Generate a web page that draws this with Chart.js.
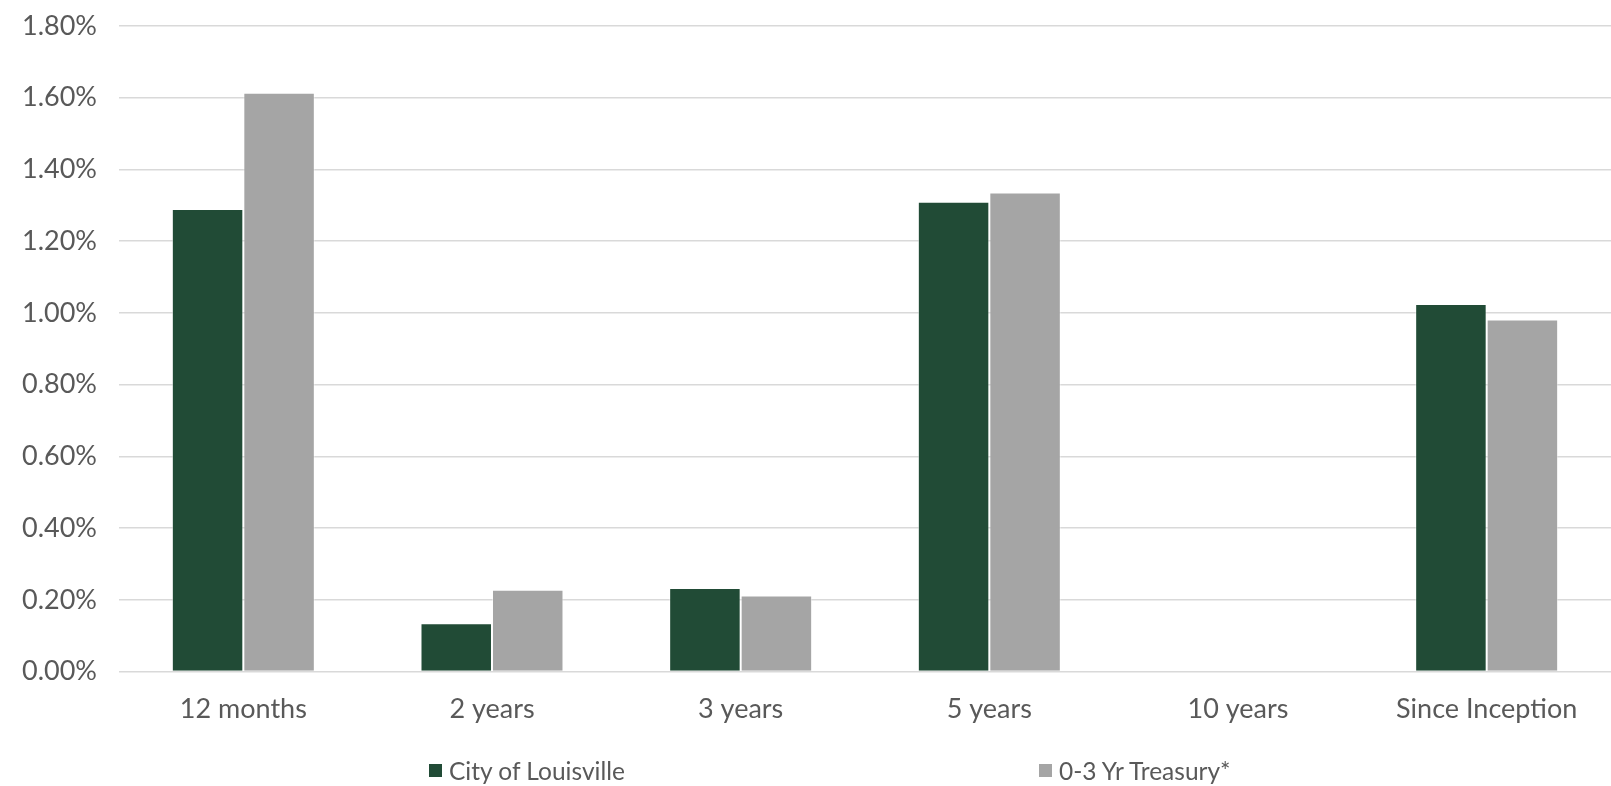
<!DOCTYPE html>
<html>
<head>
<meta charset="utf-8">
<script src="https://cdn.jsdelivr.net/npm/chart.js@4.4.1/dist/chart.umd.min.js"></script>
<style>
  html, body { margin: 0; padding: 0; background: #fff; }
  #wrap { position: relative; width: 1611px; height: 786px; }
  #legend { position: absolute; top: 756px; left: 0; width: 1611px; height: 28px;
            font-family: Lato, "Open Sans", sans-serif; font-size: 24.5px; color: #595959; }
  .item { position: absolute; top: 0; display: flex; align-items: center; white-space: nowrap; }
  .box { width: 13px; height: 13px; margin-right: 7px; }
</style>
</head>
<body>
<div id="wrap">
  <canvas id="perfChart" width="1611" height="786"></canvas>
  <div id="legend"></div>
</div>
<script>
// periods and annualised returns (in %)
const periods = ['12 months', '2 years', '3 years', '5 years', '10 years', 'Since Inception'];
const louisville = [1.29, 0.135, 0.233, 1.31, null, 1.025];
const treasury = [1.614, 0.228, 0.212, 1.336, null, 0.982];
const seriesNames = ['City of Louisville', '0-3 Yr Treasury*'];
const seriesColors = ['#214B36', '#A5A5A5'];
const legendLeft = [429, 1039];

const font = "Lato, 'Open Sans', sans-serif";

const ctx = document.getElementById('perfChart').getContext('2d');
const chart = new Chart(ctx, {
    type: 'bar',
    data: {
        labels: periods,
        datasets: [
            { label: seriesNames[0], data: louisville, backgroundColor: seriesColors[0],
              borderColor: 'rgba(255,255,255,0.45)', borderWidth: 1 },
            { label: seriesNames[1], data: treasury, backgroundColor: seriesColors[1],
              borderColor: 'rgba(255,255,255,0.45)', borderWidth: 1 }
        ]
    },
    options: {
        responsive: false,
        animation: false,
        layout: { autoPadding: false, padding: { left: 0, right: 0, top: 9, bottom: 48 } },
        plugins: { legend: { display: false }, tooltip: { enabled: false } },
        datasets: { bar: { categoryPercentage: 0.575, barPercentage: 1.0 } },
        scales: {
            x: {
                grid: { display: false },
                border: { display: false },
                ticks: { color: '#595959', font: { family: font, size: 27 }, padding: 13 }
            },
            y: {
                min: 0,
                max: 1.8,
                grid: { color: '#D9D9D9', lineWidth: 1.5, drawTicks: false },
                border: { display: false },
                ticks: {
                    stepSize: 0.2,
                    color: '#595959',
                    // small lineHeight so the top label doesn't push the plot down
                    font: { family: font, size: 27, lineHeight: 0.3 },
                    padding: 22,
                    callback: v => v.toFixed(2) + '%'
                }
            }
        }
    }
});

// legend below the plot
const legend = document.getElementById('legend');
seriesNames.forEach((name, i) => {
    const item = document.createElement('div');
    item.className = 'item';
    item.style.left = legendLeft[i] + 'px';
    item.innerHTML = '<span class="box" style="background:' + seriesColors[i] + '"></span>' + name;
    legend.appendChild(item);
});
</script>
</body>
</html>
